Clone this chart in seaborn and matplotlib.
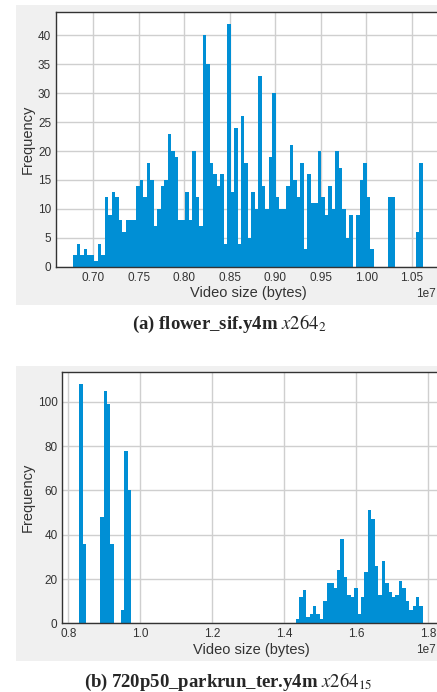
import numpy as np
import pandas as pd
import seaborn as sns
from matplotlib import pyplot as plt
from matplotlib.patches import Rectangle
from matplotlib.ticker import MultipleLocator

# bin counts (100 equal bins each)
# ranges are in units of 1e7 bytes
flower_range = (0.6780, 1.0618)
flower_counts = [2, 4, 2, 3, 2, 2, 1, 4, 2, 12, 9, 13, 12, 8, 6, 8, 8, 8, 14, 15,
                 12, 18, 15, 7, 10, 14, 15, 23, 20, 19, 8, 8, 13, 8, 20, 12, 7, 40, 35, 18,
                 16, 14, 16, 4, 42, 13, 24, 4, 26, 18, 5, 13, 10, 33, 14, 10, 19, 30, 12, 10,
                 10, 14, 21, 15, 12, 18, 3, 16, 11, 11, 20, 12, 9, 14, 10, 20, 17, 10, 5, 9,
                 0, 9, 15, 18, 12, 3, 0, 0, 0, 0, 12, 12, 0, 0, 0, 0, 0, 0, 6, 18]

parkrun_range = (0.8311, 1.7861)
parkrun_counts = [108, 36, 0, 0, 0, 0, 48, 105, 99, 36, 0, 0, 6, 78, 60,
                  0, 0, 0, 0, 0, 0, 0, 0, 0, 0, 0, 0, 0, 0, 0, 0,
                  0, 0, 0, 0, 0, 0, 0, 0, 0, 0, 0, 0, 0, 0, 0, 0,
                  0, 0, 0, 0, 0, 0, 0, 0, 0, 0, 0, 0, 0, 0, 0, 0,
                  2, 12, 15, 3, 4, 8, 4, 2, 10, 18, 18, 16, 24, 38, 21, 13, 12, 16, 4, 12,
                  23, 51, 47, 26, 13, 28, 18, 14, 12, 13, 19, 16, 10, 6, 8, 12, 8]

captions = ["(a) flower_sif.y4m $x264_2$", "(b) 720p50_parkrun_ter.y4m $x264_{15}$"]

BLUE = "#008fd5"
PANEL = "#f0f0f0"

sns.set_theme(style="whitegrid")
plt.rcParams["font.family"] = ["Liberation Sans", "DejaVu Sans"]
plt.rcParams["mathtext.fontset"] = "stix"
plt.rcParams["axes.edgecolor"] = "#333333"
plt.rcParams["axes.linewidth"] = 1.0
plt.rcParams["grid.color"] = "#cfcfcf"
plt.rcParams["grid.linewidth"] = 1.0
plt.rcParams["xtick.color"] = "#333333"
plt.rcParams["ytick.color"] = "#333333"
plt.rcParams["axes.labelcolor"] = "#333333"


def draw_hist(ax, counts, value_range, ystep, xstep):
    """Histogram from pre-binned counts."""
    lo, hi = value_range[0] * 1e7, value_range[1] * 1e7
    edges = np.linspace(lo, hi, len(counts) + 1)
    df = pd.DataFrame({"size": (edges[:-1] + edges[1:]) / 2, "count": counts})
    sns.histplot(data=df, x="size", weights="count", bins=len(counts), binrange=(lo, hi),
                 ax=ax, color=BLUE, alpha=1, linewidth=0, edgecolor="none")
    ax.set_xlabel("Video size (bytes)", fontsize=10.5, labelpad=2)
    ax.set_ylabel("Frequency", fontsize=10.5, labelpad=2)
    ax.yaxis.set_major_locator(MultipleLocator(ystep))
    ax.xaxis.set_major_locator(MultipleLocator(xstep * 1e7))
    ax.tick_params(axis="both", length=0, labelsize=8.5, pad=3.5)
    offset = ax.xaxis.get_offset_text()
    offset.set_fontsize(8.5)
    offset.set_x(0.99)
    ax.set_axisbelow(True)
    for side in ["top", "left", "bottom", "right"]:
        ax.spines[side].set_visible(True)


fig = plt.figure(figsize=(4.37, 6.92), dpi=100)

# grey panels behind each plot
fig.patches.append(Rectangle((0.0366, 0.5592), 1.0, 0.4335, transform=fig.transFigure,
                             facecolor=PANEL, edgecolor="none", zorder=-10))
fig.patches.append(Rectangle((0.0366, 0.0448), 1.0, 0.4263, transform=fig.transFigure,
                             facecolor=PANEL, edgecolor="none", zorder=-10))

ax1 = fig.add_axes([0.1281, 0.6146, 0.8787, 0.3685])
draw_hist(ax1, flower_counts, flower_range, 5, 0.05)

ax2 = fig.add_axes([0.1426, 0.0993, 0.8643, 0.3627])
draw_hist(ax2, parkrun_counts, parkrun_range, 20, 0.2)

fig.text(0.524, 0.5245, captions[0], ha="center", va="baseline",
         family="Liberation Serif", weight="bold", fontsize=13.5)
fig.text(0.522, 0.0078, captions[1], ha="center", va="baseline",
         family="Liberation Serif", weight="bold", fontsize=13.5)

fig.savefig("out.png", dpi=100, facecolor="white")
